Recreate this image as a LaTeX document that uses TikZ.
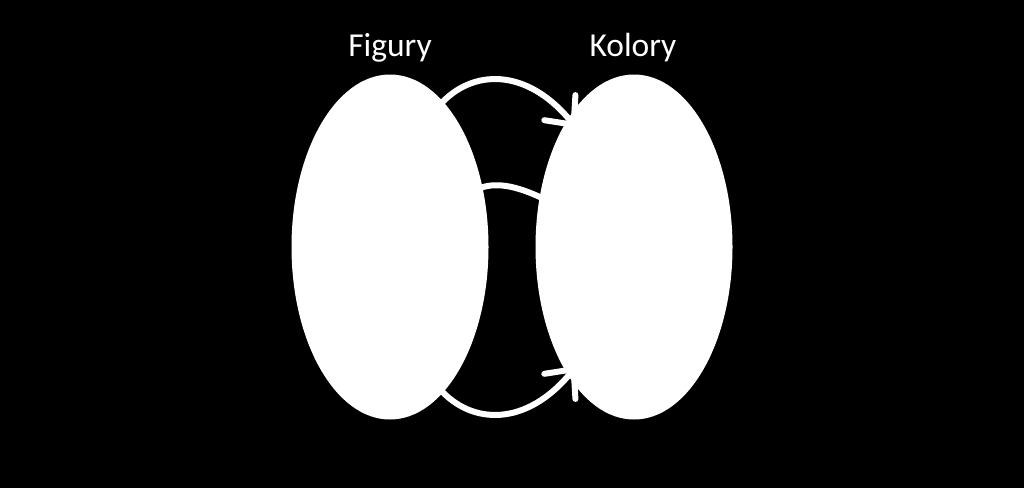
\documentclass[tikz,border=0pt]{standalone}
\usepackage{fontspec}
\setmainfont{Carlito}
\usetikzlibrary{shapes.geometric,arrows.meta}
\begin{document}
\begin{tikzpicture}[x=1pt,y=-1pt,
  setbox/.style={ellipse,fill=white,draw=none,minimum width=197pt,minimum height=345pt,inner sep=0pt},
  settitle/.style={text=white,font=\fontsize{33.5}{40}\selectfont,anchor=base},
  link/.style={draw=white,line width=6pt},
  linkarrow/.style={link,-{Straight Barb[length=22pt,width=40pt,line cap=round]},shorten >=-13pt}]
\fill[black] (0,0) rectangle (1024,488);
\useasboundingbox (0,0) rectangle (1024,488);
\node[setbox] (L) at (390,247) {};
\node[setbox] (R) at (634,247) {};
\node[settitle] (tL) at (390,56) {Figury};
\node[settitle] (tR) at (633,56) {Kolory};
\draw[linkarrow,shorten <=-5pt] (L.70.5) .. controls +(28,-32) and +(-42,-52) .. (R.117);
\draw[link,shorten <=-5pt,shorten >=-5pt] (L.33.7) .. controls +(12,-5) and +(-25,-12) .. (R.152);
\draw[linkarrow,shorten <=-5pt] (L.-70.5) .. controls +(28,32) and +(-42,52) .. (R.-117);
\end{tikzpicture}
\end{document}
